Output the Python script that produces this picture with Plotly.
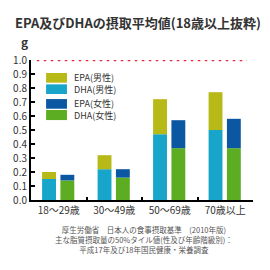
import plotly.graph_objects as go

# ---- data ----
categories = ["18〜29歳", "30〜49歳", "50〜69歳", "70歳以上"]
dha_male = [0.15, 0.22, 0.47, 0.50]
epa_male = [0.05, 0.10, 0.25, 0.27]
dha_female = [0.14, 0.16, 0.37, 0.37]
epa_female = [0.04, 0.06, 0.20, 0.21]
y_ticks = [0.0, 0.1, 0.2, 0.3, 0.4, 0.5, 0.6, 0.7, 0.8, 0.9, 1.0]
reference_value = 1.0
legend_names = ["EPA(男性)", "DHA(男性)", "EPA(女性)", "DHA(女性)"]
title_text = "EPA及びDHAの摂取平均値(18歳以上抜粋)"
unit_text = "g"
source_lines = [
    "厚生労働省　日本人の食事摂取基準　(2010年版)",
    "主な脂質摂取量の50%タイル値(性及び年齢階級別)：",
    "平成17年及び18年国民健康・栄養調査",
]

# ---- styles ----
C_EPA_M = "#b7b916"
C_DHA_M = "#17a5c9"
C_EPA_F = "#0b57a2"
C_DHA_F = "#5cad22"
FONT = "Noto Sans CJK JP"
TXT = "#333333"

fig = go.Figure()
W = 0.25
OFF_M = -0.30
OFF_F = 0.03

# male stacked
fig.add_trace(go.Bar(x=categories, y=dha_male, name=legend_names[1], marker_color=C_DHA_M,
                     width=W, offset=OFF_M, showlegend=False, marker_line_width=0))
fig.add_trace(go.Bar(x=categories, y=epa_male, base=dha_male, name=legend_names[0], marker_color=C_EPA_M,
                     width=W, offset=OFF_M, showlegend=False, marker_line_width=0))
# female stacked
fig.add_trace(go.Bar(x=categories, y=dha_female, name=legend_names[3], marker_color=C_DHA_F,
                     width=W, offset=OFF_F, showlegend=False, marker_line_width=0))
fig.add_trace(go.Bar(x=categories, y=epa_female, base=dha_female, name=legend_names[2], marker_color=C_EPA_F,
                     width=W, offset=OFF_F, showlegend=False, marker_line_width=0))

# reference dotted line at 1.0
fig.add_shape(type="line", xref="paper", yref="y", x0=0.026, x1=0.973,
              y0=reference_value, y1=reference_value,
              line=dict(color="#e8283f", width=2.5, dash="2.5px,4.5px"))

# manual legend
legend_colors = [C_EPA_M, C_DHA_M, C_EPA_F, C_DHA_F]
legend_y = [(0.907, 0.838), (0.826, 0.757), (0.721, 0.652), (0.643, 0.571)]
for name, col, (ya, yb) in zip(legend_names, legend_colors, legend_y):
    fig.add_shape(type="rect", xref="paper", yref="paper", x0=0.068, x1=0.162,
                  y0=yb, y1=ya, fillcolor=col, line=dict(width=0))
    fig.add_annotation(xref="paper", yref="paper", x=0.185, y=(ya + yb) / 2,
                       text=name, showarrow=False, xanchor="left", yanchor="middle",
                       font=dict(family=FONT, size=9, color=TXT))

# unit label
fig.add_annotation(xref="paper", yref="paper", x=-0.03, y=1.13, text="<b>" + unit_text + "</b>",
                   showarrow=False, xanchor="center", yanchor="middle",
                   font=dict(family=FONT, size=12, color=TXT))

# source lines (one multi-line block)
fig.add_annotation(xref="paper", yref="paper", x=0.51, y=(200 - 239) / 140,
                   text="<br>".join(source_lines),
                   showarrow=False, xanchor="center", yanchor="middle", align="center",
                   font=dict(family=FONT, size=7.5, color="#555555"))

fig.update_layout(
    width=270, height=270,
    margin=dict(l=31, r=17, t=60, b=70),
    paper_bgcolor="white", plot_bgcolor="white",
    barmode="overlay",
    showlegend=False,
    title=dict(text="<b>" + title_text + "</b>", x=15 / 270, xanchor="left",
               yref="container", y=1 - 23 / 270, yanchor="middle",
               font=dict(family=FONT, size=13, color=TXT)),
    font=dict(family=FONT, color=TXT),
)
fig.update_xaxes(
    type="category", showline=True, linecolor="black", linewidth=2,
    ticks="inside", tickson="boundaries", ticklen=3, tickcolor="black", tickwidth=1.5,
    showgrid=False, zeroline=False, tickangle=0,
    tickfont=dict(family=FONT, size=10, color=TXT),
    range=[-0.5, 3.5],
)
fig.update_yaxes(
    range=[0, 1.0], tickvals=y_ticks, tickformat=".1f",
    showline=True, linecolor="black", linewidth=2,
    ticks="inside", ticklen=4, tickwidth=2, tickcolor="black",
    showgrid=False, zeroline=False,
    tickfont=dict(family=FONT, size=10, color=TXT),
)

fig.write_html("out.html")
